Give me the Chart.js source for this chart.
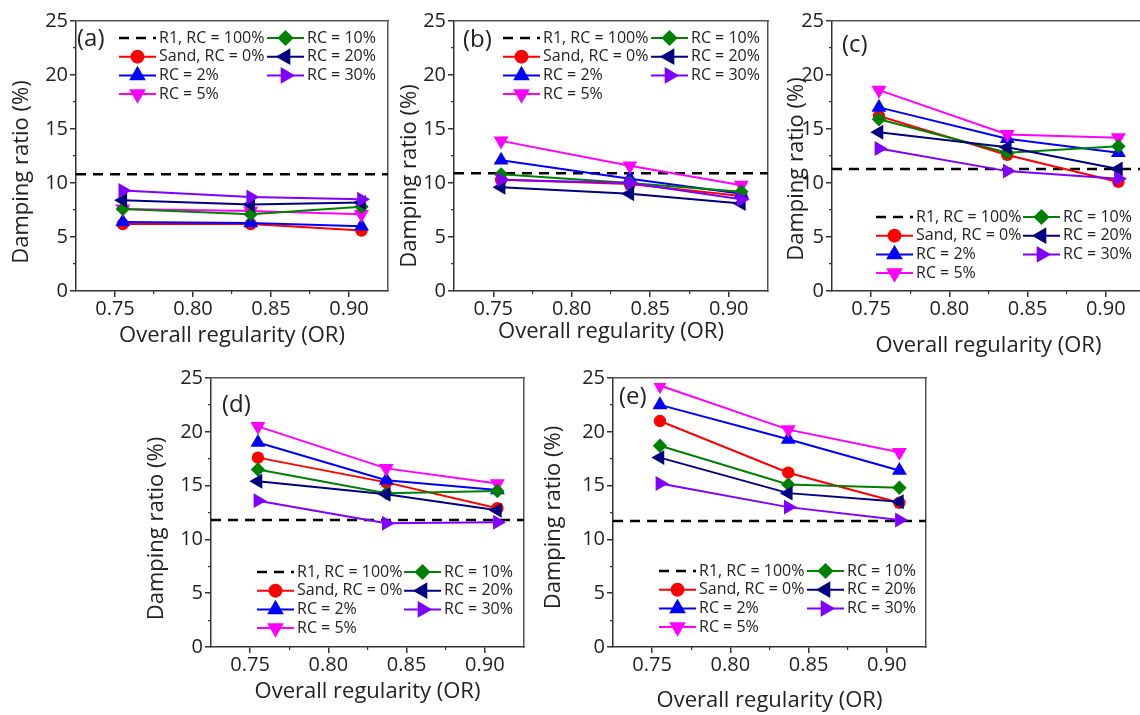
<!DOCTYPE html>
<html>
<head>
<meta charset="utf-8">
<script src="https://cdn.jsdelivr.net/npm/chart.js"></script>
<style>
  html, body { margin: 0; padding: 0; background: #fff; }
  body { width: 1140px; height: 715px; position: relative; overflow: hidden; }
</style>
</head>
<body>
<script>
// overall regularity (x) shared by every panel
const orValues = [0.755, 0.837, 0.908];
const orTicks = [0.75, 0.80, 0.85, 0.90];
const orMinorTicks = [0.775, 0.825, 0.875];
const ratioTicks = [0, 5, 10, 15, 20, 25];
const ratioMinorTicks = [2.5, 7.5, 12.5, 17.5, 22.5];
const panelTags = ['(a)', '(b)', '(c)', '(d)', '(e)'];
const seriesNames = ['R1, RC = 100%', 'Sand, RC = 0%', 'RC = 2%', 'RC = 5%', 'RC = 10%', 'RC = 20%', 'RC = 30%'];

// damping ratio (%), one row per panel a..e
const r1Ratio = [10.8, 10.9, 11.3, 11.8, 11.7];
const sandRatio = [[6.2, 6.2, 5.6], [10.3, 9.9, 8.8], [16.2, 12.6, 10.1], [17.6, 15.3, 12.9], [21.0, 16.2, 13.4]];
const rc2Ratio = [[6.4, 6.3, 6.0], [12.1, 10.4, 9.0], [17.0, 14.1, 12.8], [19.0, 15.5, 14.6], [22.5, 19.3, 16.4]];
const rc5Ratio = [[7.6, 7.4, 7.1], [13.9, 11.6, 9.8], [18.6, 14.5, 14.2], [20.5, 16.6, 15.2], [24.3, 20.2, 18.1]];
const rc10Ratio = [[7.6, 7.1, 7.8], [10.8, 10.0, 9.2], [15.9, 12.8, 13.4], [16.5, 14.3, 14.5], [18.7, 15.1, 14.8]];
const rc20Ratio = [[8.4, 8.0, 8.2], [9.6, 9.0, 8.1], [14.7, 13.3, 11.3], [15.4, 14.2, 12.7], [17.6, 14.3, 13.5]];
const rc30Ratio = [[9.3, 8.7, 8.5], [10.3, 10.0, 8.5], [13.2, 11.1, 10.4], [13.6, 11.5, 11.6], [15.2, 13.0, 11.8]];

const seriesData = [sandRatio, rc2Ratio, rc5Ratio, rc10Ratio, rc20Ratio, rc30Ratio];

// marker styles for Sand, 2, 5, 10, 20, 30 %
const seriesStyles = [
  { color: '#ff0000', pointStyle: 'circle', radius: 6.2, rotation: 0 },
  { color: '#0000ff', pointStyle: 'triangle', radius: 8.6, rotation: 0 },
  { color: '#ff00ff', pointStyle: 'triangle', radius: 8.6, rotation: 180 },
  { color: '#008000', pointStyle: 'rectRot', radius: 7.2, rotation: 0 },
  { color: '#000080', pointStyle: 'triangle', radius: 8.6, rotation: 270 },
  { color: '#8000ff', pointStyle: 'triangle', radius: 8.6, rotation: 90 }
];

// plot-area boxes on the page, plus where tag, legend and y title sit
const layoutBoxes = [
  { L: 76, T: 21, R: 388, B: 291, Wy: 67, Hx: 58, tag: [1, 18], leg: [43, 191, 17], yTitleShift: 16 },
  { L: 454, T: 21, R: 768, B: 291, Wy: 57, Hx: 54, tag: [9, 19], leg: [49, 197, 17], yTitleShift: 20 },
  { L: 832, T: 21, R: 1145, B: 291, Wy: 48, Hx: 68, tag: [10, 24], leg: [44, 191, 196], yTitleShift: 13 },
  { L: 211, T: 378, R: 524, B: 647, Wy: 67, Hx: 58, tag: [11, 27], leg: [46, 193, 194], yTitleShift: 16 },
  { L: 613, T: 378, R: 926, B: 647, Wy: 72, Hx: 67, tag: [6, 19], leg: [46, 194, 193], yTitleShift: 5 }
];

const xMin = 0.725, xMax = 0.925;
const textColor = '#222';
const axisColor = '#333';

Chart.defaults.font.family = '"Open Sans", sans-serif';
Chart.defaults.color = textColor;

// panel tag, in-plot legend, and a nudge for the y title
const panelDecor = {
  id: 'panelDecor',
  afterLayout(chart, args, opts) {
    const y = chart.scales.y;
    y.top += opts.box.yTitleShift;
    y.bottom += opts.box.yTitleShift;
  },
  afterDraw(chart, args, opts) {
    const { ctx, chartArea } = chart;
    const box = opts.box;
    ctx.save();
    ctx.textAlign = 'left';
    ctx.textBaseline = 'middle';
    ctx.fillStyle = textColor;
    ctx.font = '24px "Open Sans"';
    ctx.fillText(opts.tag, chartArea.left + box.tag[0], chartArea.top + box.tag[1]);

    ctx.font = '16px "Open Sans"';
    chart.data.datasets.forEach((ds, i) => {
      const col = i < 4 ? 0 : 1;
      const row = i < 4 ? i : i - 4;
      const x0 = chartArea.left + box.leg[col];
      const y = chartArea.top + box.leg[2] + row * 18.7;
      ctx.strokeStyle = ds.borderColor;
      ctx.lineWidth = ds.borderWidth;
      ctx.setLineDash(ds.borderDash || []);
      ctx.beginPath();
      ctx.moveTo(x0, y);
      ctx.lineTo(x0 + 37, y);
      ctx.stroke();
      ctx.setLineDash([]);
      if (ds.pointRadius > 0) {
        ctx.fillStyle = ds.backgroundColor;
        Chart.helpers.drawPoint(ctx, {
          pointStyle: ds.pointStyle,
          rotation: ds.pointRotation,
          radius: ds.pointRadius * 1.12,
          borderWidth: 0
        }, x0 + 18.5, y);
      }
      ctx.fillStyle = textColor;
      ctx.fillText(ds.label, x0 + 40, y);
    });
    ctx.restore();
  }
};

function frameAxis(position) {
  const horiz = position === 'top';
  return {
    type: 'linear',
    position: position,
    ticks: { display: false },
    grid: { display: false },
    border: { display: true, color: '#555', width: 1.5 },
    afterFit: s => { if (horiz) s.height = 0; else s.width = 0; }
  };
}

layoutBoxes.forEach((box, p) => {
  const padTop = 14, padRight = 8;
  const w = box.Wy + (box.R - box.L) + padRight;
  const h = padTop + (box.B - box.T) + box.Hx;
  const canvas = document.createElement('canvas');
  canvas.width = w;
  canvas.height = h;
  canvas.style.cssText = `position:absolute;left:${box.L - box.Wy}px;top:${box.T - padTop}px;width:${w}px;height:${h}px;`;
  document.body.appendChild(canvas);

  const datasets = [{
    label: seriesNames[0],
    data: [{ x: xMin, y: r1Ratio[p] }, { x: xMax, y: r1Ratio[p] }],
    borderColor: '#000',
    backgroundColor: '#000',
    borderWidth: 2.5,
    borderDash: [10, 7],
    pointRadius: 0,
    order: 20
  }];
  seriesData.forEach((arr, i) => {
    const st = seriesStyles[i];
    datasets.push({
      label: seriesNames[i + 1],
      data: orValues.map((x, k) => ({ x: x, y: arr[p][k] })),
      borderColor: st.color,
      backgroundColor: st.color,
      borderWidth: 2,
      pointStyle: st.pointStyle,
      pointRadius: st.radius,
      pointRotation: st.rotation,
      pointBorderWidth: 0,
      pointBackgroundColor: st.color,
      order: 10 - i
    });
  });

  new Chart(canvas, {
    type: 'line',
    data: { datasets: datasets },
    options: {
      responsive: false,
      animation: false,
      layout: { autoPadding: false, padding: { top: padTop, right: padRight, left: 0, bottom: 0 } },
      plugins: {
        legend: { display: false },
        tooltip: { enabled: false },
        panelDecor: { box: box, tag: panelTags[p] }
      },
      scales: {
        x: {
          type: 'linear',
          position: 'bottom',
          weight: 1,
          min: xMin,
          max: xMax,
          afterBuildTicks: s => { s.ticks = orTicks.map(v => ({ value: v })); },
          afterFit: s => { s.height = box.Hx; },
          ticks: { font: { size: 20 }, padding: 0, callback: v => v.toFixed(2) },
          grid: { drawOnChartArea: false, tickLength: 6, color: axisColor, lineWidth: 1.5 },
          border: { color: axisColor, width: 1.5 },
          title: { display: true, text: 'Overall regularity (OR)', font: { size: 22 }, padding: 0 }
        },
        xMinor: {
          type: 'linear',
          position: 'bottom',
          weight: 0,
          min: xMin,
          max: xMax,
          afterBuildTicks: s => { s.ticks = orMinorTicks.map(v => ({ value: v })); },
          afterFit: s => { s.height = 0; },
          ticks: { display: false },
          grid: { drawOnChartArea: false, tickLength: 3, color: axisColor, lineWidth: 1.2 },
          border: { display: false }
        },
        y: {
          type: 'linear',
          position: 'left',
          weight: 1,
          min: 0,
          max: 25,
          afterBuildTicks: s => { s.ticks = ratioTicks.map(v => ({ value: v })); },
          afterFit: s => { s.width = box.Wy; },
          ticks: { font: { size: 20 }, padding: 2 },
          grid: { drawOnChartArea: false, tickLength: 6, color: axisColor, lineWidth: 1.5 },
          border: { display: false },
          title: { display: true, text: 'Damping ratio (%)', font: { size: 22 }, padding: 0 }
        },
        yMinor: {
          type: 'linear',
          position: 'left',
          weight: 0,
          min: 0,
          max: 25,
          afterBuildTicks: s => { s.ticks = ratioMinorTicks.map(v => ({ value: v })); },
          afterFit: s => { s.width = 0; },
          ticks: { display: false },
          grid: { drawOnChartArea: false, tickLength: 3, color: axisColor, lineWidth: 1.2 },
          border: { display: true, color: axisColor, width: 1.5 }
        },
        xTop: frameAxis('top'),
        yRight: frameAxis('right')
      }
    },
    plugins: [panelDecor]
  });
});
</script>
</body>
</html>
